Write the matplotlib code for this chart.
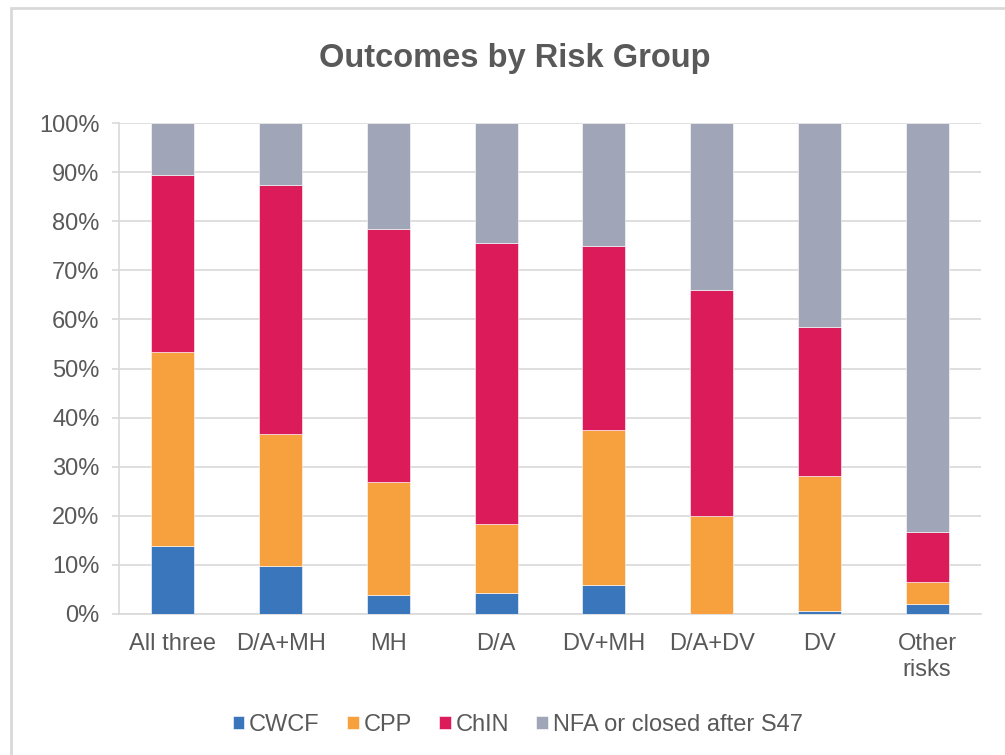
import matplotlib
matplotlib.use("Agg")
import matplotlib.pyplot as plt
from matplotlib.patches import Rectangle
import numpy as np

plt.rcParams['font.family'] = ['Liberation Sans', 'DejaVu Sans']

categories = ["All three", "D/A+MH", "MH", "D/A", "DV+MH", "D/A+DV", "DV", "Other\nrisks"]
series_names = ["CWCF", "CPP", "ChIN", "NFA or closed after S47"]
cwcf = [13.9, 9.8, 3.9, 4.3, 5.9, 0.0, 0.6, 2.1]
cpp = [39.5, 26.9, 23.0, 14.0, 31.6, 20.0, 27.5, 4.4]
chin = [36.0, 50.7, 51.5, 57.3, 37.4, 46.0, 30.4, 10.2]
nfa = [10.6, 12.6, 21.6, 24.4, 25.1, 34.0, 41.5, 83.3]
colors = ["#3a76bc", "#f7a13e", "#db1b5a", "#a0a6b8"]

fig = plt.figure(figsize=(10.05, 7.55), dpi=100)
ax = fig.add_axes([0.1184, 0.1868, 0.8577, 0.6502])

x = np.arange(len(categories))
bottom = np.zeros(len(categories))
for vals, name, c in zip([cwcf, cpp, chin, nfa], series_names, colors):
    ax.bar(x, vals, 0.4, bottom=bottom, color=c, label=name, zorder=3,
           edgecolor='white', linewidth=0.4)
    bottom += np.array(vals)

ax.set_xlim(-0.5, len(categories) - 0.5)
ax.set_ylim(0, 100)
ax.set_yticks(np.arange(0, 101, 10))
ax.set_yticklabels([f"{v}%" for v in range(0, 101, 10)])
ax.set_xticks(x)
ax.set_xticklabels(categories)
ax.tick_params(axis='both', labelsize=17, labelcolor='#595959')
ax.tick_params(axis='y', length=5, width=1.2, color='#d9d9d9', pad=9)
ax.tick_params(axis='x', length=0, pad=14)
ax.yaxis.grid(True, color='#d9d9d9', linewidth=1.2, zorder=0)
for s in ['top', 'right']:
    ax.spines[s].set_visible(False)
ax.spines['left'].set_color('#d9d9d9')
ax.spines['bottom'].set_color('#d9d9d9')
ax.spines['left'].set_linewidth(1.2)
ax.spines['bottom'].set_linewidth(1.2)

fig.text(0.5125, 0.922, "Outcomes by Risk Group", ha='center', va='center',
         fontsize=23.5, fontweight='bold', color='#595959')

leg = fig.legend(loc='center', bbox_to_anchor=(0.515, 0.040), ncol=4, frameon=False,
                 fontsize=17, handlelength=0.5, handleheight=0.5, handletextpad=0.2,
                 columnspacing=1.15, labelcolor='#595959')

fig.patches.append(Rectangle((0.011, -0.05), 1.1, 1.04, transform=fig.transFigure,
                             fill=False, edgecolor='#d9d9d9', linewidth=2))

fig.savefig("out.png", dpi=100)
